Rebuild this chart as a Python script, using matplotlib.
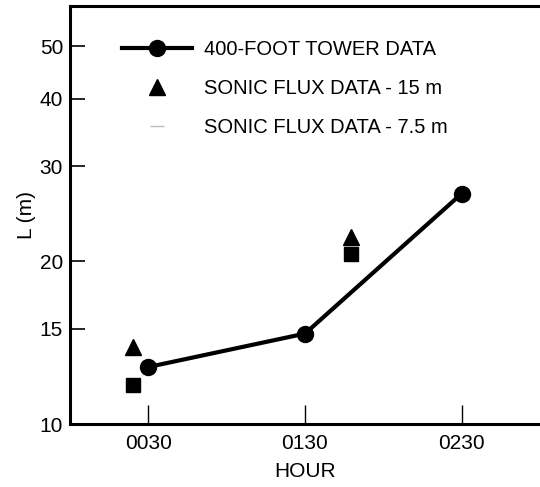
import matplotlib
matplotlib.use("Agg")
import matplotlib.pyplot as plt
from matplotlib.ticker import FixedLocator, FixedFormatter, NullLocator

plt.rcParams['font.family'] = ['Liberation Sans', 'DejaVu Sans']

# Monin-Obukhov length L (m) versus hour
tower_hours = [0.5, 1.5, 2.5]
tower_L = [12.75, 14.7, 26.7]

sonic15_hours = [0.405, 1.795]
sonic15_L = [13.9, 22.2]

sonic75_hours = [0.405, 1.795]
sonic75_L = [11.8, 20.6]

xtick_pos = [0.5, 1.5, 2.5]
xtick_labels = ["0030", "0130", "0230"]
ytick_pos = [10, 15, 20, 30, 40, 50]
ytick_labels = ["10", "15", "20", "30", "40", "50"]

fig = plt.figure(figsize=(5.40, 4.87), dpi=100)
ax = fig.add_axes([70 / 540, 63 / 487, 470 / 540, 418 / 487])

ax.plot(tower_hours, tower_L, color="black", lw=3.0, marker="o", ms=11.5,
        label="400-FOOT TOWER DATA", zorder=3)
ax.plot(sonic15_hours, sonic15_L, ls="none", color="black", marker="^", ms=11,
        label="SONIC FLUX DATA - 15 m", zorder=3)
ax.plot(sonic75_hours, sonic75_L, ls="none", color="black", marker="s", ms=10.5,
        zorder=3)
# legend entry for the 7.5 m series shows only a faint dash
ax.plot([], [], ls="none", color="#bbbbbb", marker="_", ms=10, mew=1.0,
        label="SONIC FLUX DATA - 7.5 m")

ax.set_yscale("log")
ax.set_ylim(10, 59.4)
ax.set_xlim(0, 3)

ax.yaxis.set_major_locator(FixedLocator(ytick_pos))
ax.yaxis.set_major_formatter(FixedFormatter(ytick_labels))
ax.yaxis.set_minor_locator(NullLocator())
ax.xaxis.set_major_locator(FixedLocator(xtick_pos))
ax.xaxis.set_major_formatter(FixedFormatter(xtick_labels))

ax.tick_params(axis="y", direction="in", length=11, width=1.2, pad=5,
               labelsize=15)
ax.tick_params(axis="x", direction="in", length=14, width=1.0, pad=7,
               labelsize=15)

for side in ("left", "bottom", "top"):
    ax.spines[side].set_linewidth(2.2)
ax.spines["right"].set_visible(False)

ax.set_xlabel("HOUR", fontsize=15, labelpad=7)
ax.set_ylabel("L (m)", fontsize=15, labelpad=3)

ax.legend(loc="upper left", bbox_to_anchor=(52 / 470, 1 - 34 / 418),
          frameon=False, fontsize=14.5, handlelength=3.5, handletextpad=0.55,
          labelspacing=1.0, borderaxespad=0, borderpad=0, numpoints=1)

fig.savefig("out.png", dpi=100)
